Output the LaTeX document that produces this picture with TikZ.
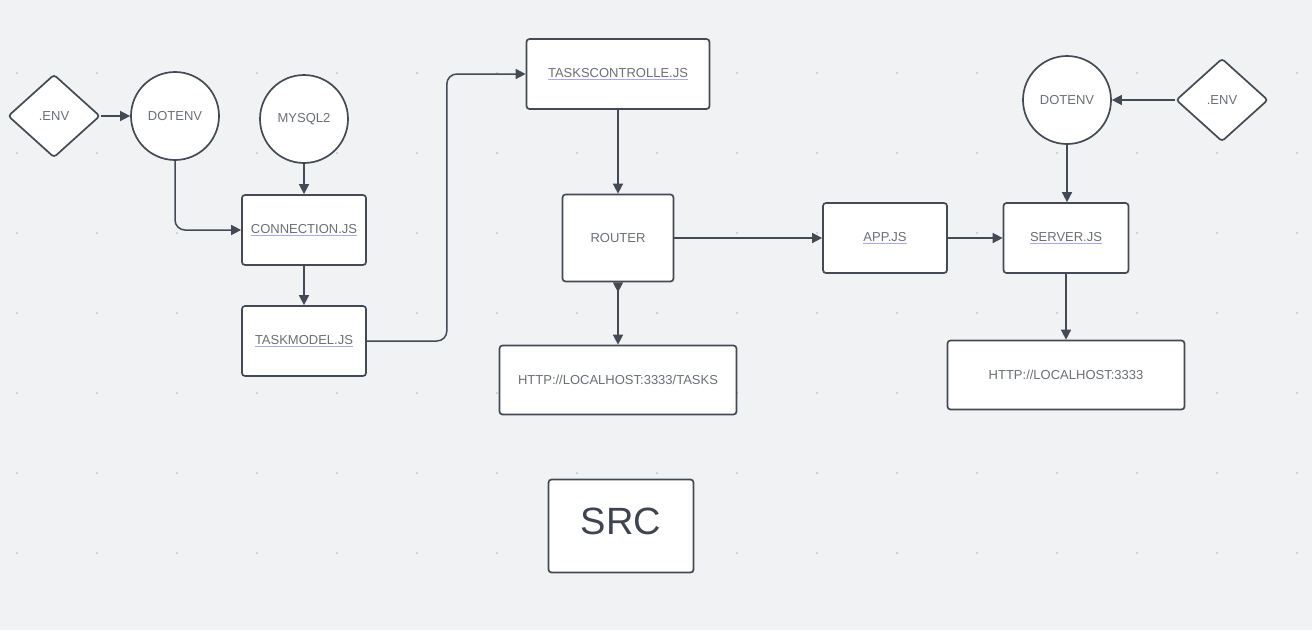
\documentclass[tikz,border=0pt]{standalone}
\usepackage{fontspec}
\setmainfont{Liberation Sans}
\usetikzlibrary{shapes.geometric, arrows.meta}

\definecolor{board}{HTML}{F1F2F4}
\definecolor{griddot}{HTML}{B9BCC1}
\definecolor{edge}{HTML}{434A54}
\definecolor{label}{HTML}{6B6F76}
\definecolor{title}{HTML}{3E4550}
\definecolor{linkline}{HTML}{A9A7F2}
\newcommand{\filename}[1]{{\color{linkline}\underline{\color{label}#1}}}

\tikzset{
    shape base/.style={draw=edge, fill=white, line width=1.7pt, text=label, font=\fontsize{13}{15}\selectfont},
    box/.style={shape base, rectangle, rounded corners=3pt},
    bubble/.style={shape base, circle, minimum size=88pt, inner sep=0pt},
    envdiamond/.style={shape base, diamond, minimum width=92pt, minimum height=83pt, inner sep=0pt, rounded corners=3pt},
    link/.style={draw=edge, line width=1.5pt, -{Triangle[length=10pt, width=10pt]}},
}

\begin{document}
\begin{tikzpicture}[x=1pt, y=-1pt]
    \fill[board] (0, 0) rectangle (1312, 630);
    \foreach \gx in {17, 97, ..., 1297}
        \foreach \gy in {73, 153, ..., 553}
            \fill[griddot] (\gx, \gy) circle (1pt);

    \node[envdiamond] (envl) at(54, 116) {.ENV};
    \node[bubble] (dotenvl) at(175, 116) {DOTENV};
    \node[bubble] (mysql) at(304, 119) {MYSQL2};
    \node[box] (conn) at(304, 230) [minimum width=124pt, minimum height=70pt]{\filename{CONNECTION.JS}};
    \node[box] (taskmodel) at(304, 341) [minimum width=124pt, minimum height=70pt]{\filename{TASKMODEL.JS}};
    \node[box] (ctrl) at(618, 74) [minimum width=183pt, minimum height=70pt]{\filename{TASKSCONTROLLE.JS}};
    \node[box] (router) at(618, 238) [minimum width=111pt, minimum height=87pt]{ROUTER};
    \node[box] (tasksurl) at(618, 380) [minimum width=237pt, minimum height=69pt]{HTTP://LOCALHOST:3333/TASKS};
    \node[box] (app) at(885, 238) [minimum width=124pt, minimum height=70pt]{\filename{APP.JS}};
    \node[box] (server) at(1066, 238) [minimum width=125pt, minimum height=70pt]{\filename{SERVER.JS}};
    \node[bubble] (dotenvr) at(1067, 100) {DOTENV};
    \node[envdiamond] (envr) at(1222, 100) {.ENV};
    \node[box] (hosturl) at(1066, 375) [minimum width=237pt, minimum height=69pt]{HTTP://LOCALHOST:3333};
    \node[box] (src) at(621, 526) [minimum width=145pt, minimum height=93pt, text depth=10pt, text=title, font=\fontsize{38}{44}\selectfont]{SRC};

    \draw[link] (envl) -- (dotenvl);
    \draw[link, rounded corners=10pt] (dotenvl.south) |- (conn.west);
    \draw[link] (mysql) -- (conn);
    \draw[link] (conn) -- (taskmodel);
    \draw[link, rounded corners=10pt] (taskmodel.east) -- ++(80, 0) |- (ctrl.west);
    \draw[link] (ctrl) -- (router);
    \draw[link, {Triangle[reversed, length=10pt, width=10pt]}-{Triangle[length=10pt, width=10pt]}] (router) -- (tasksurl);
    \draw[link] (router) -- (app);
    \draw[link] (app) -- (server);
    \draw[link] (envr) -- (dotenvr);
    \draw[link] (dotenvr) -- (server.north -| dotenvr.south);
    \draw[link] (server) -- (hosturl);
\end{tikzpicture}
\end{document}
